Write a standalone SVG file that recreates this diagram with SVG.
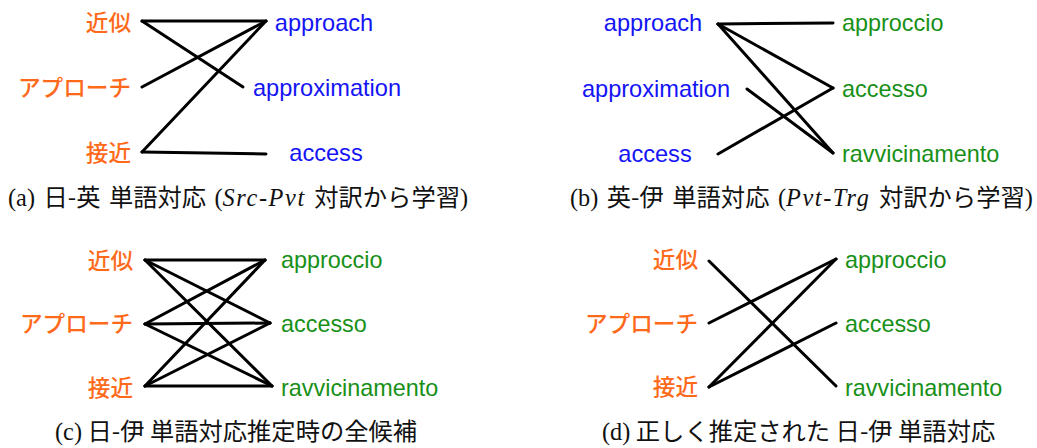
<svg xmlns="http://www.w3.org/2000/svg" width="1037" height="448" viewBox="0 0 1037 448">
<style>
.ja{font-family:"Noto Sans CJK JP",sans-serif;font-size:22.6px;font-weight:500;fill:#FF6A1A}
.en{font-family:"Liberation Sans","Noto Sans CJK JP",sans-serif;font-size:23.6px;fill:#1414F5}
.it{font-family:"Liberation Sans","Noto Sans CJK JP",sans-serif;font-size:23.4px;fill:#189018}
.cap{font-family:"Noto Sans CJK JP",sans-serif;font-size:24.3px;fill:#111}
.ser{font-family:"Liberation Serif",serif}
.mi{font-family:"Liberation Serif",serif;font-style:italic;letter-spacing:1.6px}
.e{stroke:#000;stroke-width:3;stroke-linecap:round;fill:none}
</style>
<rect width="1037" height="448" fill="#fff"/>

<g id="panel-a">
  <g id="a-kinji"><text class="ja" x="131" y="31" text-anchor="end">近似</text></g>
  <g id="a-approach-ja"><text class="ja" x="131" y="96" text-anchor="end">アプローチ</text></g>
  <g id="a-sekkin"><text class="ja" x="131" y="161" text-anchor="end">接近</text></g>
  <g id="a-approach"><text class="en" x="324" y="31" text-anchor="middle">approach</text></g>
  <g id="a-approximation"><text class="en" x="327" y="96" text-anchor="middle">approximation</text></g>
  <g id="a-access"><text class="en" x="326" y="161" text-anchor="middle">access</text></g>
  <g id="a-caption"><text class="cap" x="8" y="206" word-spacing="3"><tspan class="ser">(a)</tspan> 日-英 単語対応 <tspan class="ser">(</tspan><tspan class="mi">Src-Pvt</tspan> 対訳から学習<tspan class="ser">)</tspan></text></g>
</g>

<g id="panel-b">
  <g id="b-approach"><text class="en" x="653" y="31" text-anchor="middle">approach</text></g>
  <g id="b-approximation"><text class="en" x="656" y="97" text-anchor="middle">approximation</text></g>
  <g id="b-access"><text class="en" x="655" y="162" text-anchor="middle">access</text></g>
  <g id="b-approccio"><text class="it" x="842" y="31">approccio</text></g>
  <g id="b-accesso"><text class="it" x="842" y="97">accesso</text></g>
  <g id="b-ravvicinamento"><text class="it" x="842" y="162">ravvicinamento</text></g>
  <g id="b-caption"><text class="cap" x="570" y="206" word-spacing="3"><tspan class="ser">(b)</tspan> 英-伊 単語対応 <tspan class="ser">(</tspan><tspan class="mi">Pvt-Trg</tspan> 対訳から学習<tspan class="ser">)</tspan></text></g>
</g>

<g id="panel-c">
  <g id="c-kinji"><text class="ja" x="133" y="269" text-anchor="end">近似</text></g>
  <g id="c-approach-ja"><text class="ja" x="133" y="332" text-anchor="end">アプローチ</text></g>
  <g id="c-sekkin"><text class="ja" x="133" y="396" text-anchor="end">接近</text></g>
  <g id="c-approccio"><text class="it" x="281" y="268">approccio</text></g>
  <g id="c-accesso"><text class="it" x="281" y="332">accesso</text></g>
  <g id="c-ravvicinamento"><text class="it" x="281" y="396">ravvicinamento</text></g>
  <g id="c-caption"><text class="cap" x="55" y="440"><tspan class="ser">(c)</tspan> 日-伊 単語対応推定時の全候補</text></g>
</g>

<g id="panel-d">
  <g id="d-kinji"><text class="ja" x="698" y="268" text-anchor="end">近似</text></g>
  <g id="d-approach-ja"><text class="ja" x="698" y="332" text-anchor="end">アプローチ</text></g>
  <g id="d-sekkin"><text class="ja" x="698" y="395" text-anchor="end">接近</text></g>
  <g id="d-approccio"><text class="it" x="845" y="268">approccio</text></g>
  <g id="d-accesso"><text class="it" x="845" y="332">accesso</text></g>
  <g id="d-ravvicinamento"><text class="it" x="845" y="396">ravvicinamento</text></g>
  <g id="d-caption"><text class="cap" x="602" y="440"><tspan class="ser">(d)</tspan> 正しく推定された 日-伊 単語対応</text></g>
</g>

<g id="connectors">
  <!-- a -->
  <line class="e" x1="142" y1="21" x2="266" y2="21"/>
  <line class="e" x1="142" y1="21" x2="243" y2="87"/>
  <line class="e" x1="142" y1="87" x2="266" y2="21"/>
  <line class="e" x1="142" y1="152" x2="266" y2="21"/>
  <line class="e" x1="142" y1="152" x2="266" y2="154"/>
  <!-- b -->
  <line class="e" x1="718" y1="24" x2="833" y2="23"/>
  <line class="e" x1="718" y1="24" x2="833" y2="88"/>
  <line class="e" x1="718" y1="24" x2="833" y2="153"/>
  <line class="e" x1="747" y1="89" x2="833" y2="153"/>
  <line class="e" x1="718" y1="154" x2="833" y2="88"/>
  <!-- c -->
  <line class="e" x1="145" y1="260" x2="265" y2="260"/>
  <line class="e" x1="145" y1="260" x2="270" y2="323"/>
  <line class="e" x1="145" y1="260" x2="272" y2="386"/>
  <line class="e" x1="145" y1="324" x2="265" y2="260"/>
  <line class="e" x1="145" y1="324" x2="270" y2="323"/>
  <line class="e" x1="145" y1="324" x2="272" y2="386"/>
  <line class="e" x1="145" y1="386" x2="265" y2="260"/>
  <line class="e" x1="145" y1="386" x2="270" y2="323"/>
  <line class="e" x1="145" y1="386" x2="272" y2="386"/>
  <!-- d -->
  <line class="e" x1="709" y1="261" x2="836" y2="386"/>
  <line class="e" x1="709" y1="323" x2="836" y2="259"/>
  <line class="e" x1="709" y1="387" x2="836" y2="259"/>
  <line class="e" x1="709" y1="387" x2="836" y2="323"/>
</g>
</svg>
